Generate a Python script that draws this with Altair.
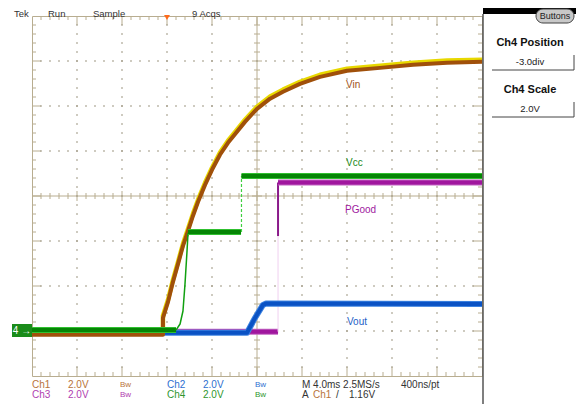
import altair as alt
import pandas as pd

# ---------------- data read from the scope screen ----------------
# time in ms relative to the trigger (M 4.0 ms/div), levels in V (2.0 V/div)
vin_t = [-12, -0.36, -0.36, 0.09, 0.53, 0.98, 1.42, 1.87, 2.31, 2.76, 3.38, 4.0, 4.71,
         5.42, 6.13, 6.93, 8.0, 9.16, 10.31, 11.82, 13.6, 16.0, 18.93, 21.87, 24.89, 28.0]
vin_v = [-0.13, -0.13, 0.62, 1.33, 2.22, 3.02, 3.82, 4.49, 5.16, 5.78, 6.53, 7.2, 7.87,
         8.4, 8.84, 9.33, 9.91, 10.36, 10.67, 11.02, 11.33, 11.6, 11.73, 11.87, 11.96, 12.0]

vcc_low_t, vcc_low_v = [-12, 0.8], [0.04, 0.04]
vcc_rise_t, vcc_rise_v = [0.8, 1.16, 1.42, 1.6, 1.78, 1.87], [0.04, 0.31, 0.89, 2.09, 3.56, 4.36]
vcc_mid_t, vcc_mid_v = [1.87, 6.58], [4.4, 4.4]
vcc_jump_t, vcc_jump_v = [6.62, 6.62], [4.4, 6.89]
vcc_high_t, vcc_high_v = [6.62, 28], [6.89, 6.89]

pg_low_t, pg_low_v = [-12, 9.87], [-0.03, -0.03]
pg_faint_t, pg_faint_v = [9.87, 9.87], [-0.03, 4.22]
pg_edge_t, pg_edge_v = [9.87, 9.87], [4.22, 6.6]
pg_high_t, pg_high_v = [9.87, 28], [6.6, 6.6]

vout_t = [-12, 7.11, 7.82, 8.53, 8.8, 28]
vout_v = [-0.08, -0.08, 0.58, 1.16, 1.22, 1.2]

trace_labels = ["Vin", "Vcc", "PGood", "Vout"]
label_t = [15.91, 15.91, 15.82, 16.0]
label_v = [10.93, 7.47, 5.38, 0.4]
label_colors = ["#A0521A", "#1A8A1A", "#A020A0", "#1E5FC8"]

T0, T1 = -12, 28        # 10 div x 4 ms
V0, V1 = -2, 14         # 8 div x 2 V
FONT = "Liberation Sans"
GRID = "#B8AD90"

xs = alt.Scale(domain=[T0, T1], nice=False, zero=False)
ys = alt.Scale(domain=[V0, V1], nice=False, zero=False)
X = alt.X("t:Q", scale=xs, axis=None)
Y = alt.Y("v:Q", scale=ys, axis=None)


def seg(ts, vs):
    return pd.DataFrame({"t": ts, "v": vs, "i": list(range(len(ts)))})


def line(df, color, width, dash=None, yoff=None, cap="butt"):
    kw = dict(color=color, strokeWidth=width, strokeCap=cap, strokeJoin="round")
    if dash:
        kw["strokeDash"] = dash
    if yoff is not None:
        kw["yOffset"] = yoff
    return alt.Chart(df).mark_line(**kw).encode(x=X, y=Y, order="i:Q")


one = pd.DataFrame({"a": [0]})


def txt(x, y, s, color="#333333", size=10, weight="normal", align="left", baseline="middle"):
    return alt.Chart(one).mark_text(
        text=s, color=color, fontSize=size, fontWeight=weight, align=align,
        baseline=baseline, font=FONT
    ).encode(x=alt.value(x), y=alt.value(y))


def box(x, x2, y, y2, fill, stroke=None, radius=0):
    kw = dict(color=fill)
    if stroke:
        kw.update(stroke=stroke, strokeWidth=1)
    if radius:
        kw["cornerRadius"] = radius
    return alt.Chart(one).mark_rect(**kw).encode(
        x=alt.value(x), x2=alt.value(x2), y=alt.value(y), y2=alt.value(y2))


def prule(x, x2, y, y2, color, width=1):
    return alt.Chart(one).mark_rule(color=color, strokeWidth=width).encode(
        x=alt.value(x), x2=alt.value(x2), y=alt.value(y), y2=alt.value(y2))


# ---------------- graticule ----------------
tpp = (T1 - T0) / 450.0
vpp = (V1 - V0) / 360.0
rows = []
for k in range(1, 40):
    v = V0 + 0.4 * k
    L = 9 if k % 5 == 0 else 4
    rows.append((T0, T0 + L * tpp, v, v))
    rows.append((T1 - L * tpp, T1, v, v))
    Lc = 5 if k % 5 == 0 else 3
    rows.append((8 - Lc * tpp, 8 + Lc * tpp, v, v))
for k in range(1, 50):
    t = T0 + 0.8 * k
    L = 9 if k % 5 == 0 else 4
    rows.append((t, t, V1 - L * vpp, V1))
    rows.append((t, t, V0, V0 + L * vpp))
    Lc = 5 if k % 5 == 0 else 3
    rows.append((t, t, 6 - Lc * vpp, 6 + Lc * vpp))
rows.append((8, 8, V0, V1))
rows.append((T0, T1, 6, 6))
ticks = pd.DataFrame(rows, columns=["t", "t2", "v", "v2"])
tick_layer = alt.Chart(ticks).mark_rule(color=GRID, strokeWidth=1).encode(
    x=X, x2="t2:Q", y=Y, y2="v2:Q")

dots = []
for t in [-8, -4, 0, 4, 12, 16, 20, 24]:
    for k in range(1, 40):
        dots.append((t, V0 + 0.4 * k))
for v in [0, 2, 4, 8, 10, 12]:
    for k in range(1, 50):
        dots.append((T0 + 0.8 * k, v))
dot_layer = alt.Chart(pd.DataFrame(dots, columns=["t", "v"])).mark_square(
    size=2, color="#A29C88", opacity=1).encode(x=X, y=Y)

# ---------------- traces ----------------
layers = [tick_layer, dot_layer]
layers += [
    line(seg(pg_low_t, pg_low_v), "#C060C0", 6),
    line(seg(pg_low_t, pg_low_v), "#A0169E", 4),
    line(seg(pg_faint_t, pg_faint_v), "#F0D0F0", 1),
    line(seg(pg_edge_t, pg_edge_v), "#8A1A8A", 2),
    line(seg(pg_high_t, pg_high_v), "#C060C0", 6),
    line(seg(pg_high_t, pg_high_v), "#A0169E", 4),
    line(seg(vout_t, vout_v), "#3C82E0", 6, cap="butt"),
    line(seg(vout_t, vout_v), "#0A52C4", 4),
    line(seg(vin_t, vin_v), "#E8D800", 4.5, yoff=-1.3),
    line(seg(vin_t, vin_v), "#A0500A", 4, yoff=0.8),
    line(seg(vcc_low_t, vcc_low_v), "#30C030", 6),
    line(seg(vcc_low_t, vcc_low_v), "#058505", 4),
    line(seg(vcc_rise_t, vcc_rise_v), "#10A010", 1.5),
    line(seg(vcc_mid_t, vcc_mid_v), "#30C030", 6),
    line(seg(vcc_mid_t, vcc_mid_v), "#058505", 4),
    line(seg(vcc_jump_t, vcc_jump_v), "#40D040", 1.2, dash=[3, 2]),
    line(seg(vcc_high_t, vcc_high_v), "#30C030", 6),
    line(seg(vcc_high_t, vcc_high_v), "#058505", 4),
]

lab = pd.DataFrame({"t": label_t, "v": label_v, "label": trace_labels, "c": label_colors})
layers.append(alt.Chart(lab).mark_text(align="left", baseline="middle", fontSize=10, font=FONT).encode(
    x=X, y=Y, text="label:N", color=alt.Color("c:N", scale=None)))

# trigger position marker
layers.append(alt.Chart(one).mark_point(shape="triangle-down", filled=True, size=35, color="#FF6A1A",
                                        opacity=1, yOffset=1.5).encode(x=alt.X(datum=0, scale=xs, axis=None),
                                                                        y=alt.Y(datum=V1, scale=ys, axis=None)))
# Ch4 ground marker
layers.append(box(-20, 0, 308, 321, "#1A8C1A"))
layers.append(txt(-10, 314.5, "4 \u2192", color="white", size=10, align="center"))

# ---------------- header ----------------
for x, s in [(-18, "Tek"), (16, "Run"), (61, "Sample"), (160, "9 Acqs")]:
    layers.append(txt(x, -7, s, color="#333333", size=9.5, baseline="top"))

# ---------------- footer ----------------
C1, C2, C3, C4 = "#B8743A", "#2E6FD0", "#B040B0", "#2E962E"
r1, r2 = 369, 379
foot = [
    (0, r1, "Ch1", C1), (36, r1, "2.0V", C1), (88, r1, "Bw", C1),
    (135, r1, "Ch2", C2), (171, r1, "2.0V", C2), (223, r1, "Bw", C2),
    (270, r1, "M 4.0ms 2.5MS/s", "#333333"), (369, r1, "400ns/pt", "#333333"),
    (0, r2, "Ch3", C3), (36, r2, "2.0V", C3), (88, r2, "Bw", C3),
    (135, r2, "Ch4", C4), (171, r2, "2.0V", C4), (223, r2, "Bw", C4),
    (270, r2, "A", "#333333"), (281, r2, "Ch1", C1), (304, r2, "/", "#333333"),
    (317, r2, "1.16V", "#333333"),
]
for x, y, s, c in foot:
    sz = 8 if s == "Bw" else 10
    layers.append(txt(x, y, s, color=c, size=sz))

# ---------------- side panel ----------------
layers.append(box(451, 552, -10, -2, "#000000"))
layers.append(prule(451, 451, -2, 388, "#555555", 1.5))
layers.append(box(504, 542, -7, 7, "#C8C8C8", stroke="#404040", radius=7))
layers.append(txt(523, 0, "Buttons", color="#222222", size=9, align="center"))
layers.append(txt(498, 27, "Ch4 Position", color="#111111", size=11, weight="bold", align="center"))
layers.append(prule(460, 542, 54, 54, "#444444"))
layers.append(prule(542, 542, 39, 54, "#444444"))
layers.append(txt(498, 46, "-3.0div", color="#222222", size=9.5, align="center"))
layers.append(txt(498, 74, "Ch4 Scale", color="#111111", size=11, weight="bold", align="center"))
layers.append(prule(460, 542, 101, 101, "#444444"))
layers.append(prule(542, 542, 86, 101, "#444444"))
layers.append(txt(498, 93, "2.0V", color="#222222", size=9.5, align="center"))

chart = alt.layer(*layers).properties(
    width=450, height=360,
    autosize=alt.AutoSizeParams(type="none"),
    padding={"left": 24, "top": 8, "right": 94, "bottom": 28},
    background="white",
).configure_view(stroke=GRID, strokeWidth=1)

chart.save("out.html", embed_options={"renderer": "svg", "actions": False})
